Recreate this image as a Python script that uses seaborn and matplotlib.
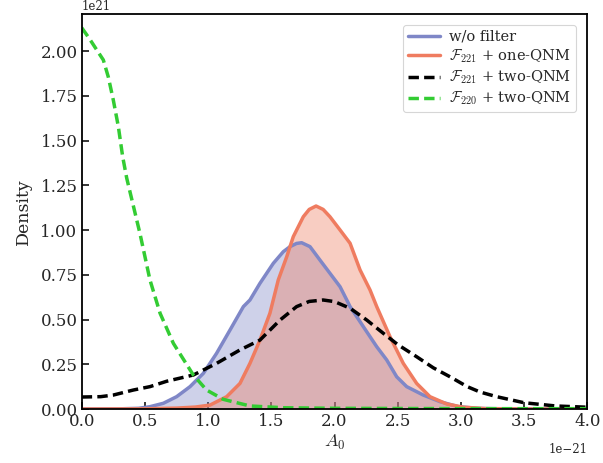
import numpy as np
import pandas as pd
import matplotlib
matplotlib.use("Agg")
import matplotlib.pyplot as plt
import seaborn as sns

# Posterior density of the amplitude A_0 (in units of 1e-21), density in units of 1e21
x_nofilter = [0.0, 0.30, 0.45, 0.54, 0.646, 0.751, 0.857, 0.962, 1.067, 1.173, 1.279, 1.331,
              1.41, 1.516, 1.595, 1.648, 1.70, 1.74, 1.806, 1.885, 1.964, 2.044, 2.097,
              2.123, 2.228, 2.334, 2.413, 2.492, 2.571, 2.702, 2.835, 2.98, 3.15, 3.5, 4.0]
y_nofilter = [0.0, 0.001, 0.004, 0.013, 0.032, 0.069, 0.125, 0.199, 0.311, 0.441, 0.572, 0.609,
              0.702, 0.814, 0.879, 0.907, 0.925, 0.929, 0.907, 0.832, 0.758, 0.683, 0.609,
              0.572, 0.46, 0.348, 0.274, 0.18, 0.125, 0.078, 0.041, 0.013, 0.003, 0.0, 0.0]

x_one_qnm = [0.0, 0.5, 0.75, 0.9, 1.015, 1.147, 1.252, 1.331, 1.41, 1.489, 1.555, 1.622,
             1.674, 1.753, 1.80, 1.854, 1.91, 1.964, 2.044, 2.123, 2.202, 2.281, 2.334,
             2.439, 2.544, 2.65, 2.755, 2.888, 3.02, 3.2, 3.5, 4.0]
y_one_qnm = [0.0, 0.001, 0.005, 0.011, 0.022, 0.069, 0.143, 0.255, 0.385, 0.535, 0.721, 0.851,
             0.963, 1.074, 1.115, 1.134, 1.115, 1.074, 1.0, 0.926, 0.777, 0.665, 0.572,
             0.404, 0.255, 0.143, 0.069, 0.028, 0.01, 0.002, 0.0, 0.0]

x_221_two = [0.0, 0.15, 0.25, 0.408, 0.54, 0.672, 0.883, 1.067, 1.252, 1.41, 1.569, 1.70,
             1.80, 1.91, 2.0, 2.123, 2.255, 2.386, 2.50, 2.65, 2.782, 2.914, 3.05, 3.151,
             3.282, 3.5, 3.75, 4.0]
y_221_two = [0.067, 0.069, 0.078, 0.106, 0.125, 0.155, 0.19, 0.255, 0.33, 0.385, 0.497, 0.572,
             0.601, 0.609, 0.6, 0.563, 0.497, 0.423, 0.36, 0.292, 0.23, 0.18, 0.125, 0.095,
             0.069, 0.035, 0.017, 0.01]

x_220_two = [0.0, 0.06, 0.119, 0.171, 0.21, 0.25, 0.29, 0.324, 0.356, 0.40, 0.461, 0.54,
             0.62, 0.725, 0.883, 0.988, 1.12, 1.331, 1.6, 2.0, 3.0, 4.0]
y_220_two = [2.13, 2.07, 2.006, 1.95, 1.856, 1.726, 1.577, 1.41, 1.29, 1.16, 0.98, 0.721,
             0.535, 0.367, 0.19, 0.106, 0.054, 0.017, 0.007, 0.004, 0.002, 0.002]

labels = ["w/o filter",
          r"$\mathcal{F}_{221}$ + one-QNM",
          r"$\mathcal{F}_{221}$ + two-QNM",
          r"$\mathcal{F}_{220}$ + two-QNM"]

sns.set_style("ticks")
plt.rcParams["font.family"] = ["DejaVu Serif"]
plt.rcParams["mathtext.fontset"] = "cm"
plt.rcParams["axes.linewidth"] = 1.3

fig = plt.figure(figsize=(6.03, 4.63), dpi=100)
ax = fig.add_axes([0.1355, 0.1166, 0.8385, 0.8525])

blue = "#7f87c7"
red = "#ef7c60"
dash = (0, (3.0, 1.5))

df_a = pd.DataFrame({"A0": x_nofilter, "dens": y_nofilter})
df_b = pd.DataFrame({"A0": x_one_qnm, "dens": y_one_qnm})
df_c = pd.DataFrame({"A0": x_221_two, "dens": y_221_two})
df_d = pd.DataFrame({"A0": x_220_two, "dens": y_220_two})

ax.fill_between(x_nofilter, y_nofilter, color=blue, alpha=0.38, lw=0)
sns.lineplot(data=df_a, x="A0", y="dens", ax=ax, color=blue, lw=2.5, label=labels[0])
ax.fill_between(x_one_qnm, y_one_qnm, color=red, alpha=0.38, lw=0)
sns.lineplot(data=df_b, x="A0", y="dens", ax=ax, color=red, lw=2.5, label=labels[1])
sns.lineplot(data=df_c, x="A0", y="dens", ax=ax, color="black", lw=2.5, ls=dash,
             label=labels[2])
sns.lineplot(data=df_d, x="A0", y="dens", ax=ax, color="#33cc33", lw=2.5, ls=dash,
             label=labels[3])

ax.set_xlim(0, 4.0)
ax.set_ylim(0, 2.205)
xt = np.arange(0, 4.01, 0.5)
yt = np.arange(0, 2.01, 0.25)
ax.set_xticks(xt)
ax.set_xticklabels([f"{v:.1f}" for v in xt])
ax.set_yticks(yt)
ax.set_yticklabels([f"{v:.2f}" for v in yt])
ax.tick_params(direction="in", length=5, width=1.3, labelsize=12, pad=3)
ax.set_xlabel(r"$A_0$", fontsize=13, labelpad=2)
ax.set_ylabel("Density", fontsize=12.5, labelpad=6)

ax.text(0.0, 1.004, "1e21", transform=ax.transAxes, fontsize=8.5, ha="left", va="bottom")
ax.text(1.0, -0.085, "1e\u221221", transform=ax.transAxes, fontsize=8.5, ha="right", va="top")

leg = ax.legend(loc="upper right", fontsize=10.5, frameon=True, handlelength=2.2,
                borderpad=0.35, labelspacing=0.25, handletextpad=0.6, fancybox=True,
                bbox_to_anchor=(0.992, 0.992))
leg.get_frame().set_edgecolor("#cccccc")
leg.get_frame().set_linewidth(0.8)

for s in ax.spines.values():
    s.set_color("black")

fig.savefig("out.png", dpi=100)
